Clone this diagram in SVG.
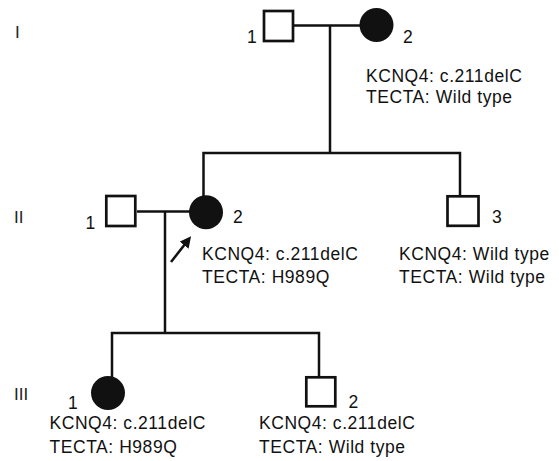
<svg xmlns="http://www.w3.org/2000/svg" width="559" height="461" viewBox="0 0 559 461">
<style>
.bg{fill:#fff}
.m{fill:#fff;stroke:#111;stroke-width:2.7}
.f{fill:#111}
.ln{fill:none;stroke:#111;stroke-width:2.5}
.t{font-family:"Liberation Sans",Arial,sans-serif;font-size:17.5px;letter-spacing:0.55px;fill:#111}
.g{font-family:"Liberation Sans",Arial,sans-serif;font-size:17px;fill:#222}
</style>
<defs>
<marker id="ah" viewBox="0 0 10 10" refX="7" refY="5" markerWidth="4.5" markerHeight="4.5" orient="auto" markerUnits="strokeWidth">
<path d="M0,0 L10,5 L0,10 z" fill="#111"/>
</marker>
</defs>
<rect class="bg" x="0" y="0" width="559" height="461"/>
<g id="generations">
<text class="g" x="15" y="38">I</text>
<text class="g" x="14" y="223">II</text>
<text class="g" x="14" y="400">III</text>
</g>
<g id="connectors">
<path class="ln" d="M294,25.5 H360"/>
<path class="ln" d="M330,25.5 V153"/>
<path class="ln" d="M203.5,196 V153 H460 V196"/>
<path class="ln" d="M137,211.5 H190"/>
<path class="ln" d="M165,211.5 V333"/>
<path class="ln" d="M112,377 V333 H319 V377"/>
<path class="ln" d="M171,262 L189,239" marker-end="url(#ah)"/>
</g>
<g id="I-1">
<rect class="m" x="264" y="11" width="29" height="30"/>
<text class="t" x="247" y="43">1</text>
</g>
<g id="I-2">
<circle class="f" cx="376.5" cy="25" r="17"/>
<text class="t" x="403" y="43">2</text>
<text class="t" x="366" y="82">KCNQ4: c.211delC</text>
<text class="t" x="366" y="103">TECTA: Wild type</text>
</g>
<g id="II-1">
<rect class="m" x="106.3" y="196" width="29" height="30"/>
<text class="t" x="85.5" y="229">1</text>
</g>
<g id="II-2">
<circle class="f" cx="206" cy="212.3" r="17"/>
<text class="t" x="233" y="223.3">2</text>
<text class="t" x="202" y="260">KCNQ4: c.211delC</text>
<text class="t" x="202" y="283.3">TECTA: H989Q</text>
</g>
<g id="II-3">
<rect class="m" x="447.5" y="196.3" width="31" height="29.5"/>
<text class="t" x="492" y="223.3">3</text>
<text class="t" x="399" y="260">KCNQ4: Wild type</text>
<text class="t" x="399" y="283.3">TECTA: Wild type</text>
</g>
<g id="III-1">
<circle class="f" cx="108" cy="393" r="17"/>
<text class="t" x="68" y="408.7">1</text>
<text class="t" x="49.5" y="429.3">KCNQ4: c.211delC</text>
<text class="t" x="49.5" y="452.7">TECTA: H989Q</text>
</g>
<g id="III-2">
<rect class="m" x="306.3" y="377.3" width="29" height="29"/>
<text class="t" x="348.5" y="407.7">2</text>
<text class="t" x="259" y="429.3">KCNQ4: c.211delC</text>
<text class="t" x="259" y="452.7">TECTA: Wild type</text>
</g>
</svg>
